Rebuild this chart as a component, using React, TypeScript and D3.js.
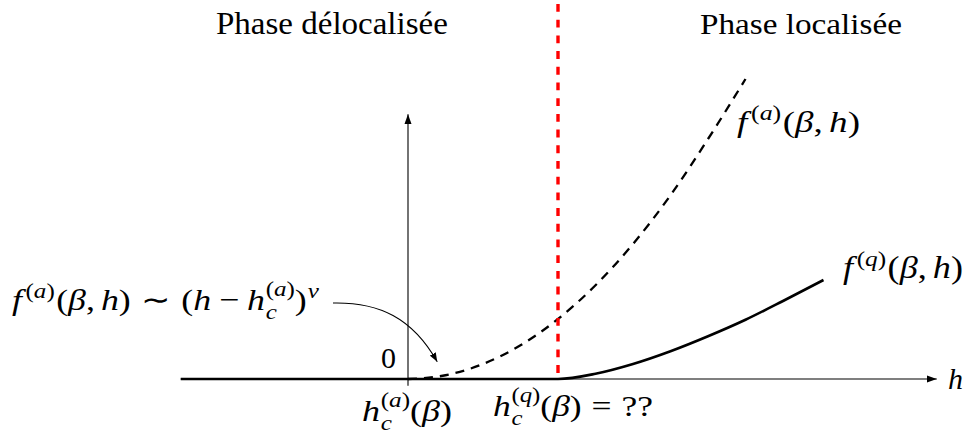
import React, { useEffect, useRef } from "react";
import * as d3 from "d3";

const W = 967;
const H = 436;

// Annealed free energy f^(a)(beta,h) — dashed curve (h, f)
const annealedH = [0, 0.5, 1, 1.5, 2, 2.5, 3, 3.5, 4, 4.5];
const annealedF = [0, 0.05, 0.2, 0.45, 0.8, 1.25, 1.8, 2.45, 3.2, 4.0];
// Quenched free energy f^(q)(beta,h) — solid curve (h, f)
const quenchedH = [-3.03, 2, 2.5, 3, 3.5, 4, 4.5, 5, 5.54];
const quenchedF = [0, 0, 0.07, 0.2, 0.37, 0.57, 0.79, 1.04, 1.32];
// critical points
const criticalA = 0; // h_c^(a)(beta)
const criticalQ = 2; // h_c^(q)(beta)
// axis extents
const hAxisRange = [-3.03, 7.05];
const fAxisRange = [-0.09, 3.53];
// annotation arrow target (h, f)
const arrowTarget = [0.39, 0.23];

const FS = 30.5;
const FONT = "Liberation Serif";

type Piece = [string, boolean];
type Part = {
  s: Piece[];
  pos?: "sup" | "sub";
  under?: boolean;
  pre?: number;
  post?: number;
  raise?: number;
  lower?: number;
};
const it = (t: string): Piece => [t, true];
const rm = (t: string): Piece => [t, false];

const phaseDeloc: Part[] = [{ s: [rm("Phase délocalisée")] }];
const phaseLoc: Part[] = [{ s: [rm("Phase localisée")] }];
const fAnnealLabel: Part[] = [
  { s: [it("f")] },
  { s: [rm("("), it("a"), rm(")")], pos: "sup", pre: 0.1 },
  { s: [rm("("), it("β"), rm(",")], pre: 0.04 },
  { s: [it("h"), rm(")")], pre: 0.17 },
];
const fQuenchLabel: Part[] = [
  { s: [it("f")] },
  { s: [rm("("), it("q"), rm(")")], pos: "sup", pre: 0.1 },
  { s: [rm("("), it("β"), rm(",")], pre: 0.04 },
  { s: [it("h"), rm(")")], pre: 0.17 },
];
const leftLabel: Part[] = [
  { s: [it("f")] },
  { s: [rm("("), it("a"), rm(")")], pos: "sup", pre: 0.1 },
  { s: [rm("("), it("β"), rm(",")], pre: 0.04 },
  { s: [it("h"), rm(")")], pre: 0.17 },
  { s: [rm("∼")], pre: 0.28, post: 0.28 },
  { s: [rm("("), it("h")] },
  { s: [rm("−")], pre: 0.22, post: 0.22 },
  { s: [it("h")] },
  { s: [rm("("), it("a"), rm(")")], pos: "sup", pre: 0.02, raise: 0.45 },
  { s: [it("c")], pos: "sub", under: true, lower: 0.28 },
  { s: [rm(")")] },
  { s: [it("ν")], pos: "sup", pre: 0.03 },
];
const hcALabel: Part[] = [
  { s: [it("h")] },
  { s: [rm("("), it("a"), rm(")")], pos: "sup", pre: 0.02, raise: 0.45 },
  { s: [it("c")], pos: "sub", under: true, lower: 0.28 },
  { s: [rm("("), it("β"), rm(")")] },
];
const hcQLabel: Part[] = [
  { s: [it("h")] },
  { s: [rm("("), it("q"), rm(")")], pos: "sup", pre: 0.02, raise: 0.45 },
  { s: [it("c")], pos: "sub", under: true, lower: 0.28 },
  { s: [rm("("), it("β"), rm(")")] },
  { s: [rm("=")], pre: 0.28, post: 0.28 },
  { s: [rm("??")] },
];
const zeroLabel: Part[] = [{ s: [rm("0")] }];
const hLabel: Part[] = [{ s: [it("h")] }];

function drawMath(
  root: d3.Selection<SVGSVGElement, unknown, null, undefined>,
  parts: Part[],
  x: number,
  baseline: number,
  targetW?: number
) {
  const g = root.append("g").attr("font-family", FONT);
  let cx = 0;
  let lastStart = 0;
  let lastW = 0;
  for (const p of parts) {
    const fs = Math.round((p.pos ? FS * 0.7 : FS) * 100) / 100;
    const dy =
      p.pos === "sup" ? -FS * (p.raise ?? 0.4) : p.pos === "sub" ? FS * (p.lower ?? 0.2) : 0;
    const start = p.under ? lastStart : cx + (p.pre ?? 0) * FS;
    const t = g
      .append("text")
      .attr("x", start)
      .attr("y", dy)
      .attr("font-family", FONT)
      .attr("font-size", fs)
      .attr("fill", "#000");
    p.s.forEach(([str, ital]) => {
      const ts = t.append("tspan").text(str);
      if (ital) ts.attr("font-style", "italic");
    });
    const w = (t.node() as SVGTextElement).getComputedTextLength();
    if (p.under) {
      cx = lastStart + Math.max(lastW, w);
    } else {
      lastStart = start;
      lastW = w;
      cx = start + w;
    }
    cx += (p.post ?? 0) * FS;
  }
  const sx = targetW ? targetW / cx : 1;
  g.attr("transform", `translate(${x},${baseline}) scale(${sx},1)`);
  return cx * sx;
}

export default function App() {
  const ref = useRef<SVGSVGElement>(null);

  useEffect(() => {
    if (!ref.current) return;
    const svg = d3.select(ref.current);
    svg.selectAll("*").remove();

    const x = d3.scaleLinear().domain([criticalA, criticalQ]).range([408, 558]);
    const y = d3.scaleLinear().domain([0, 1]).range([379, 304]);

    const defs = svg.append("defs");
    const mk = (id: string, len: number, half: number) =>
      defs
        .append("marker")
        .attr("id", id)
        .attr("viewBox", `0 ${-half} ${len} ${half * 2}`)
        .attr("refX", len)
        .attr("refY", 0)
        .attr("markerWidth", len)
        .attr("markerHeight", half * 2)
        .attr("markerUnits", "userSpaceOnUse")
        .attr("orient", "auto")
        .append("path")
        .attr("d", `M0,${-half}L${len},0L0,${half}Z`)
        .attr("fill", "#000");
    mk("tip", 10, 3.6);
    mk("tip2", 9, 3.4);

    svg.append("rect").attr("width", W).attr("height", H).attr("fill", "#fff");

    // axes
    svg
      .append("line")
      .attr("x1", x(hAxisRange[0]))
      .attr("x2", x(hAxisRange[1]))
      .attr("y1", y(0))
      .attr("y2", y(0))
      .attr("stroke", "#000")
      .attr("stroke-width", 1.1)
      .attr("marker-end", "url(#tip)");
    svg
      .append("line")
      .attr("x1", x(criticalA))
      .attr("x2", x(criticalA))
      .attr("y1", y(fAxisRange[0]))
      .attr("y2", y(fAxisRange[1]))
      .attr("stroke", "#000")
      .attr("stroke-width", 1.1)
      .attr("marker-end", "url(#tip)");

    const annealPts = annealedH.map((h, i) => [x(h), y(annealedF[i])] as [number, number]);
    const quenchPts = quenchedH.map((h, i) => [x(h), y(quenchedF[i])] as [number, number]);
    const ln = d3
      .line<[number, number]>()
      .x((d) => d[0])
      .y((d) => d[1])
      .curve(d3.curveMonotoneX);

    svg
      .append("path")
      .attr("d", ln(quenchPts))
      .attr("fill", "none")
      .attr("stroke", "#000")
      .attr("stroke-width", 2.6);

    svg
      .append("path")
      .attr("d", ln(annealPts))
      .attr("fill", "none")
      .attr("stroke", "#000")
      .attr("stroke-width", 2.3)
      .attr("stroke-dasharray", "9 7");

    svg
      .append("line")
      .attr("x1", x(criticalQ))
      .attr("x2", x(criticalQ))
      .attr("y1", 0)
      .attr("y2", y(0))
      .attr("stroke", "#ff0000")
      .attr("stroke-width", 3.4)
      .attr("stroke-dasharray", "7.85 7.85")
      .attr("stroke-dashoffset", 11.7);

    drawMath(svg, phaseDeloc, 216, 34, 232);
    drawMath(svg, phaseLoc, 700, 34, 202);
    drawMath(svg, fAnnealLabel, 737, 132, 123);
    drawMath(svg, fQuenchLabel, 843, 278, 120);
    const leftW = drawMath(svg, leftLabel, 12, 310, 307);
    drawMath(svg, zeroLabel, 381, 368, 15);
    drawMath(svg, hcALabel, 362, 421, 90);
    drawMath(svg, hcQLabel, 493, 416, 160);
    drawMath(svg, hLabel, 948, 389, 15);

    const sx = 12 + leftW + 14;
    const sy = 303;
    const tx = x(arrowTarget[0]);
    const ty = y(arrowTarget[1]);
    const p = d3.path();
    p.moveTo(sx, sy);
    p.bezierCurveTo(sx + 46, sy - 1, tx - 25, ty - 44, tx, ty);
    svg
      .append("path")
      .attr("d", p.toString())
      .attr("fill", "none")
      .attr("stroke", "#000")
      .attr("stroke-width", 1.1)
      .attr("marker-end", "url(#tip2)");
  }, []);

  return <svg ref={ref} width={W} height={H} style={{ position: "absolute", left: 0, top: 0 }} />;
}
